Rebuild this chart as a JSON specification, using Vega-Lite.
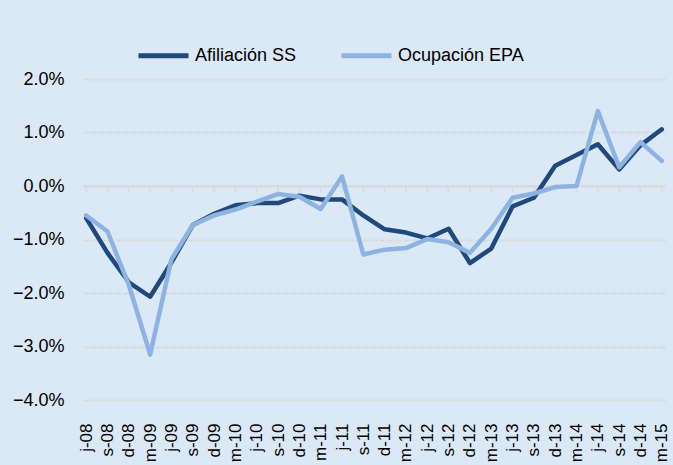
{
  "$schema": "https://vega.github.io/schema/vega-lite/v6.json",
  "width": 582,
  "height": 321,
  "autosize": "none",
  "padding": {"left": 83, "top": 79, "right": 8, "bottom": 65},
  "background": "#DBE8F5",
  "config": {
    "view": {"stroke": null},
    "font": "Liberation Sans",
    "axis": {"labelFont": "Liberation Sans", "labelColor": "#000000", "labelFontSize": 18}
  },
  "data": {"values": [
    {"t":"j-08","serie":"Afiliación SS","v":-0.60},{"t":"s-08","serie":"Afiliación SS","v":-1.25},{"t":"d-08","serie":"Afiliación SS","v":-1.80},{"t":"m-09","serie":"Afiliación SS","v":-2.07},
    {"t":"j-09","serie":"Afiliación SS","v":-1.43},{"t":"s-09","serie":"Afiliación SS","v":-0.73},{"t":"d-09","serie":"Afiliación SS","v":-0.52},{"t":"m-10","serie":"Afiliación SS","v":-0.36},
    {"t":"j-10","serie":"Afiliación SS","v":-0.32},{"t":"s-10","serie":"Afiliación SS","v":-0.32},{"t":"d-10","serie":"Afiliación SS","v":-0.18},{"t":"m-11","serie":"Afiliación SS","v":-0.25},
    {"t":"j-11","serie":"Afiliación SS","v":-0.25},{"t":"s-11","serie":"Afiliación SS","v":-0.55},{"t":"d-11","serie":"Afiliación SS","v":-0.81},{"t":"m-12","serie":"Afiliación SS","v":-0.87},
    {"t":"j-12","serie":"Afiliación SS","v":-0.98},{"t":"s-12","serie":"Afiliación SS","v":-0.80},{"t":"d-12","serie":"Afiliación SS","v":-1.44},{"t":"m-13","serie":"Afiliación SS","v":-1.17},
    {"t":"j-13","serie":"Afiliación SS","v":-0.38},{"t":"s-13","serie":"Afiliación SS","v":-0.22},{"t":"d-13","serie":"Afiliación SS","v":0.38},{"t":"m-14","serie":"Afiliación SS","v":0.58},
    {"t":"j-14","serie":"Afiliación SS","v":0.78},{"t":"s-14","serie":"Afiliación SS","v":0.31},{"t":"d-14","serie":"Afiliación SS","v":0.76},{"t":"m-15","serie":"Afiliación SS","v":1.06},
    {"t":"j-08","serie":"Ocupación EPA","v":-0.55},{"t":"s-08","serie":"Ocupación EPA","v":-0.85},{"t":"d-08","serie":"Ocupación EPA","v":-1.85},{"t":"m-09","serie":"Ocupación EPA","v":-3.15},
    {"t":"j-09","serie":"Ocupación EPA","v":-1.37},{"t":"s-09","serie":"Ocupación EPA","v":-0.73},{"t":"d-09","serie":"Ocupación EPA","v":-0.55},{"t":"m-10","serie":"Ocupación EPA","v":-0.44},
    {"t":"j-10","serie":"Ocupación EPA","v":-0.29},{"t":"s-10","serie":"Ocupación EPA","v":-0.15},{"t":"d-10","serie":"Ocupación EPA","v":-0.20},{"t":"m-11","serie":"Ocupación EPA","v":-0.43},
    {"t":"j-11","serie":"Ocupación EPA","v":0.18},{"t":"s-11","serie":"Ocupación EPA","v":-1.28},{"t":"d-11","serie":"Ocupación EPA","v":-1.19},{"t":"m-12","serie":"Ocupación EPA","v":-1.16},
    {"t":"j-12","serie":"Ocupación EPA","v":-0.99},{"t":"s-12","serie":"Ocupación EPA","v":-1.05},{"t":"d-12","serie":"Ocupación EPA","v":-1.25},{"t":"m-13","serie":"Ocupación EPA","v":-0.80},
    {"t":"j-13","serie":"Ocupación EPA","v":-0.22},{"t":"s-13","serie":"Ocupación EPA","v":-0.14},{"t":"d-13","serie":"Ocupación EPA","v":-0.02},{"t":"m-14","serie":"Ocupación EPA","v":0.00},
    {"t":"j-14","serie":"Ocupación EPA","v":1.40},{"t":"s-14","serie":"Ocupación EPA","v":0.35},{"t":"d-14","serie":"Ocupación EPA","v":0.82},{"t":"m-15","serie":"Ocupación EPA","v":0.47}
  ]},
  "encoding": {
    "x": {"field": "t", "type": "ordinal", "sort": null, "scale": {"type": "point", "padding": 0.15},
          "axis": {"title": null, "labelAngle": -90, "labelPadding": 23, "labelFontSize": 17, "domain": false, "ticks": false, "grid": false}},
    "y": {"type": "quantitative", "scale": {"domain": [-4, 2], "nice": false, "zero": false},
          "axis": {"title": null, "values": [-4, -3, -2, -1, 0, 1, 2], "labelExpr": "format(datum.value, '.1f') + '%'",
                   "labelPadding": 19, "domain": false, "ticks": false, "grid": true, "gridDash": [6, 2],
                   "gridColor": "#D9D9D9", "gridWidth": 2}}
  },
  "layer": [
    {"mark": {"type": "rule", "color": "#D9D9D9", "strokeWidth": 2},
     "encoding": {"x": null, "y": {"datum": 0}}},
    {"transform": [{"filter": "datum.serie === 'Afiliación SS'"}],
     "mark": {"type": "tick", "orient": "vertical", "size": 6, "thickness": 2, "yOffset": 3, "color": "#D9D9D9"},
     "encoding": {"y": {"datum": 0}}},
    {"mark": {"type": "line", "strokeWidth": 4.5, "strokeCap": "round", "strokeJoin": "round"},
     "encoding": {
       "y": {"field": "v", "type": "quantitative"},
       "color": {"field": "serie", "type": "nominal",
                 "scale": {"domain": ["Afiliación SS", "Ocupación EPA"], "range": ["#1F497D", "#8DB3E2"]},
                 "legend": {"title": null, "orient": "none", "direction": "horizontal", "legendX": 53, "legendY": -51,
                            "symbolType": "stroke", "symbolSize": 2500, "symbolStrokeWidth": 5,
                            "labelFontSize": 18, "labelFont": "Liberation Sans", "labelColor": "#000000",
                            "labelOffset": 4, "columnPadding": 34}}
     }}
  ]
}
